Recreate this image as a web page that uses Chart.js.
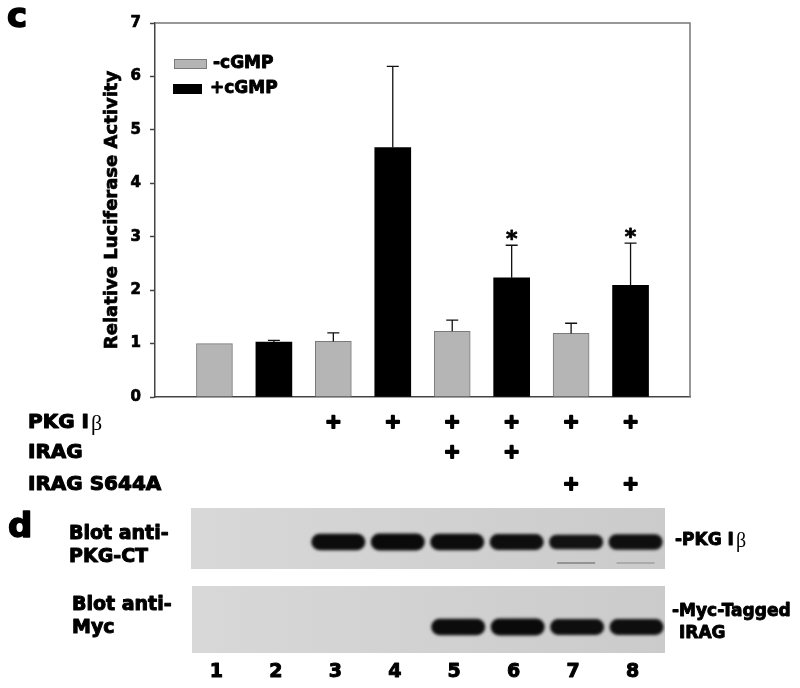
<!DOCTYPE html>
<html>
<head>
<meta charset="utf-8">
<script src="https://cdn.jsdelivr.net/npm/chart.js@4.4.0/dist/chart.umd.min.js"></script>
<style>
  body { margin: 0; background: #fff; }
</style>
</head>
<body>
<canvas id="lucChart" width="800" height="688"></canvas>
<script>
// lanes 1-8, alternating -cGMP / +cGMP
const lanes = ['1', '2', '3', '4', '5', '6', '7', '8'];
const minusCgmp = [1.00, null, 1.04, null, 1.23, null, 1.19, null];
const plusCgmp = [null, 1.03, null, 4.67, null, 2.23, null, 2.09];
const errors = [0, 0.03, 0.16, 1.52, 0.21, 0.61, 0.19, 0.79];
const significant = [false, false, false, false, false, true, false, true];

// transfection table under the chart
const pkgIb = [0, 0, 1, 1, 1, 1, 1, 1];
const irag = [0, 0, 0, 0, 1, 1, 0, 0];
const iragS644A = [0, 0, 0, 0, 0, 0, 1, 1];

// western blot band strengths per lane
const pkgBlot = [0, 0, 0.95, 1, 0.95, 0.85, 0.7, 0.8];
const pkgLower = [0, 0, 0, 0, 0, 0, 0.35, 0.2];
const mycBlot = [0, 0, 0, 0, 0.95, 1, 0.85, 0.85];

const FONT = '"DejaVu Sans", sans-serif';
const GRAY = '#b5b5b5';

// pad with empty slots so the lanes sit at index 1..8 of a 0..9 axis
const pad = arr => [null, ...arr, null];

function laneX(chart, i) {
    return chart.scales.x.getPixelForValue(i + 1);
}

// the figure uses a very heavy face, so fill and outline the text
function heavy(ctx, s, x, y, lw) {
    ctx.fillText(s, x, y);
    ctx.lineWidth = lw;
    ctx.strokeStyle = ctx.fillStyle;
    ctx.lineJoin = 'round';
    ctx.strokeText(s, x, y);
}

const errorBars = {
    id: 'errorBars',
    afterDatasetsDraw(chart) {
        const ctx = chart.ctx;
        const y = chart.scales.y;
        ctx.save();
        chart.data.datasets.forEach((ds, d) => {
            const meta = chart.getDatasetMeta(d);
            meta.data.forEach((bar, k) => {
                const v = ds.data[k];
                if (v == null) return;
                const i = k - 1;
                const err = errors[i];
                const top = y.getPixelForValue(v + err);
                if (err > 0) {
                    ctx.strokeStyle = '#111';
                    ctx.lineWidth = 1.3;
                    ctx.beginPath();
                    ctx.moveTo(bar.x, bar.y);
                    ctx.lineTo(bar.x, top);
                    ctx.moveTo(bar.x - 6, top);
                    ctx.lineTo(bar.x + 6, top);
                    ctx.stroke();
                }
                if (significant[i]) {
                    ctx.fillStyle = '#000';
                    ctx.font = 'bold 22px ' + FONT;
                    ctx.textAlign = 'center';
                    ctx.textBaseline = 'alphabetic';
                    heavy(ctx, '*', bar.x, top + 1, 0.8);
                }
            });
        });
        ctx.restore();
    }
};

const frameAndLegend = {
    id: 'frameAndLegend',
    afterDraw(chart) {
        const ctx = chart.ctx;
        const a = chart.chartArea;
        const ys = chart.scales.y;
        ctx.save();
        // box round the plot
        ctx.strokeStyle = '#777';
        ctx.lineWidth = 1.5;
        ctx.beginPath();
        ctx.moveTo(a.left, a.top);
        ctx.lineTo(a.right, a.top);
        ctx.lineTo(a.right, a.bottom);
        ctx.stroke();

        // thicken the axis text drawn by the library
        ctx.fillStyle = '#000';
        ctx.textBaseline = 'middle';
        ctx.textAlign = 'right';
        ctx.font = 'bold 15px ' + FONT;
        ctx.strokeStyle = '#000';
        ctx.lineWidth = 0.7;
        ys.ticks.forEach((t, i) => ctx.strokeText(String(t.value), a.left - 14, ys.getPixelForTick(i)));
        ctx.save();
        ctx.translate(112.8, (a.top + a.bottom) / 2);
        ctx.rotate(-Math.PI / 2);
        ctx.textAlign = 'center';
        ctx.font = 'bold 18px ' + FONT;
        ctx.strokeText(ys.options.title.text, 0, 0);
        ctx.restore();

        // legend inside the plot
        const ds = chart.data.datasets;
        ctx.font = 'bold 17px ' + FONT;
        ctx.textAlign = 'left';
        ctx.fillStyle = ds[0].backgroundColor;
        ctx.fillRect(a.left + 19, a.top + 36, 33, 10);
        ctx.strokeStyle = ds[0].borderColor;
        ctx.lineWidth = 1;
        ctx.strokeRect(a.left + 19.5, a.top + 36.5, 32, 9);
        ctx.fillStyle = ds[1].backgroundColor;
        ctx.fillRect(a.left + 18, a.top + 61, 29, 10);
        ctx.fillStyle = '#000';
        heavy(ctx, ds[0].label, a.left + 58, a.top + 41, 0.9);
        heavy(ctx, ds[1].label, a.left + 55, a.top + 66, 0.9);

        // panel letters
        ctx.font = 'bold 34px ' + FONT;
        heavy(ctx, 'c', 7, 18, 1.5);
        heavy(ctx, 'd', 8, 528, 1.5);

        // transfection rows
        ctx.font = 'bold 20px ' + FONT;
        heavy(ctx, 'PKG I', 28, 423, 1.1);
        const w = ctx.measureText('PKG I').width;
        ctx.font = '22px "Liberation Serif", serif';
        ctx.fillText('\u03b2', 28 + w + 2, 424);
        ctx.font = 'bold 20px ' + FONT;
        heavy(ctx, 'IRAG', 28, 453, 1.1);
        heavy(ctx, 'IRAG S644A', 28, 485, 1.1);

        ctx.textAlign = 'center';
        ctx.font = 'bold 20px ' + FONT;
        [[pkgIb, 423], [irag, 453], [iragS644A, 485]].forEach(([row, yy]) => {
            row.forEach((on, i) => {
                if (on) heavy(ctx, '+', laneX(chart, i), yy, 1.8);
            });
        });

        // blots
        drawBlot(ctx, chart, 191, 508, 474, 61, pkgBlot, 542, 54, 5);
        ctx.save();
        ctx.filter = 'blur(0.7px)';
        pkgLower.forEach((v, i) => {
            if (!v) return;
            ctx.fillStyle = 'rgba(40,40,40,' + v + ')';
            ctx.fillRect(laneX(chart, i) + 5 - 19, 562, 38, 2);
        });
        ctx.restore();
        drawBlot(ctx, chart, 192, 586, 473, 67, mycBlot, 627, 54, 6);

        ctx.textAlign = 'left';
        ctx.fillStyle = '#000';
        ctx.font = 'bold 19px ' + FONT;
        heavy(ctx, 'Blot anti-', 69, 534, 1);
        heavy(ctx, 'PKG-CT', 69, 557, 1);
        heavy(ctx, 'Blot anti-', 72, 605, 1);
        heavy(ctx, 'Myc', 72, 628, 1);

        ctx.font = 'bold 17px ' + FONT;
        heavy(ctx, '-PKG I', 675, 541, 0.9);
        const w2 = ctx.measureText('-PKG I').width;
        ctx.font = '20px "Liberation Serif", serif';
        ctx.fillText('\u03b2', 675 + w2 + 2, 542);
        ctx.font = 'bold 17px ' + FONT;
        heavy(ctx, '-Myc-Tagged', 672, 612, 0.9);
        heavy(ctx, 'IRAG', 679, 634, 0.9);

        // lane numbers
        ctx.textAlign = 'center';
        ctx.font = 'bold 19px ' + FONT;
        lanes.forEach((l, i) => heavy(ctx, l, laneX(chart, i) + 2, 672, 1));
        ctx.restore();
    }
};

function drawBlot(ctx, chart, x, y, w, h, bands, cy, bw, shift) {
    const g = ctx.createLinearGradient(x, 0, x + w, 0);
    g.addColorStop(0, '#d8d8d8');
    g.addColorStop(1, '#cbcbcb');
    ctx.fillStyle = g;
    ctx.fillRect(x, y, w, h);
    ctx.save();
    ctx.beginPath();
    ctx.rect(x, y, w, h);
    ctx.clip();
    ctx.filter = 'blur(1.6px)';
    bands.forEach((v, i) => {
        if (!v) return;
        const cx = laneX(chart, i) + shift;
        const bh = 9 + 8 * v;
        ctx.fillStyle = 'rgba(10,10,10,' + (0.88 + 0.12 * v) + ')';
        ctx.beginPath();
        ctx.roundRect(cx - bw / 2, cy - bh / 2, bw, bh, bh / 2);
        ctx.fill();
    });
    ctx.restore();
}

const ctx = document.getElementById('lucChart').getContext('2d');

const lucChart = new Chart(ctx, {
    type: 'bar',
    data: {
        labels: pad(lanes),
        datasets: [{
            label: '-cGMP',
            data: pad(minusCgmp),
            backgroundColor: GRAY,
            borderColor: '#7a7a7a',
            borderWidth: 1,
            barThickness: 36,
            grouped: false
        }, {
            label: '+cGMP',
            data: pad(plusCgmp),
            backgroundColor: '#000',
            borderColor: '#000',
            borderWidth: 0,
            barThickness: 36,
            grouped: false
        }]
    },
    options: {
        responsive: false,
        devicePixelRatio: 1,
        animation: false,
        layout: { padding: { top: 23, right: 110, bottom: 291, left: 0 } },
        plugins: {
            legend: { display: false },
            tooltip: { enabled: false }
        },
        scales: {
            x: {
                offset: false,
                grid: { display: false, drawTicks: false },
                ticks: { display: false },
                border: { color: '#444', width: 1.5 },
                afterFit: s => { s.height = 0; }
            },
            y: {
                min: 0,
                max: 7,
                ticks: {
                    stepSize: 1,
                    color: '#000',
                    padding: 9,
                    font: { family: FONT, weight: 'bold', size: 15 }
                },
                grid: { drawOnChartArea: false, tickLength: 5, tickColor: '#444', tickWidth: 1.5 },
                border: { color: '#444', width: 1.5 },
                title: {
                    display: true,
                    text: 'Relative Luciferase Activity',
                    color: '#000',
                    font: { family: FONT, weight: 'bold', size: 18 },
                    padding: { top: 102, bottom: 0 }
                },
                afterFit: s => { s.width = 155; }
            }
        }
    },
    plugins: [errorBars, frameAndLegend]
});
</script>
</body>
</html>
